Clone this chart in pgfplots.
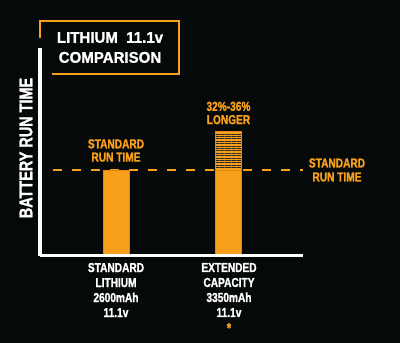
\documentclass[border=0pt]{standalone}
\usepackage{pgfplots}
\pgfplotsset{compat=1.18}
\usetikzlibrary{patterns.meta}
\usepackage{fontspec}
\setmainfont{Liberation Sans}
\newfontfamily\cond{Liberation Sans}[UprightFont=* Bold, UprightFeatures={FakeStretch=0.78, FakeBold=1.3}]
\newfontfamily\titlef{Liberation Sans}[UprightFont=* Bold, UprightFeatures={FakeStretch=0.97, FakeBold=1.2}]
\definecolor{bg}{HTML}{060909}
\definecolor{org}{HTML}{F8A01C}
\definecolor{orgdark}{HTML}{E08812}
\definecolor{hatch}{HTML}{2E2A26}

\begin{document}
\begin{tikzpicture}
\path[use as bounding box, fill=bg] (0,0) rectangle (400pt,343pt);
\begin{axis}[at={(40pt,87pt)}, anchor=south west, scale only axis,
  width=263pt, height=208pt, xmin=40, xmax=303, ymin=0, ymax=242,
  axis x line*=bottom, axis y line*=left,
  axis line style={-, white, line width=3pt},
  xtick=\empty, ytick=\empty, clip=false, axis on top=true]
\addplot[org, line width=2.2pt, dash pattern=on 9pt off 10pt, dash phase=10pt] coordinates {(44,100) (303,100)};
\addplot[ybar, bar width=26, bar shift=0pt, fill=org, draw=orgdark, line width=0.8pt,
  postaction={pattern color=hatch, pattern={Lines[angle=0,distance=2.4pt,line width=1pt]}}]
  coordinates {(228.5,145)};
\addplot[ybar, bar width=26, bar shift=0pt, fill=org, draw=orgdark, line width=0.8pt]
  coordinates {(116,100) (228.5,100)};
\end{axis}
% title box
\draw[org, line width=2pt] (40pt,305pt) -- (40pt,322pt) -- (179pt,322pt) -- (179pt,269pt) -- (52pt,269pt);
\node[white, inner sep=0, font=\fontsize{15.5}{20}\selectfont\titlef, align=center] at (110pt,295.5pt) {LITHIUM\ \ 11.1v\\COMPARISON};
% y label
\node[white, inner sep=0, rotate=90, font=\fontsize{18.5}{20}\selectfont\cond] at (26pt,195pt) {BATTERY RUN TIME};
% orange labels
\node[org, inner sep=0, font=\fontsize{13}{13.3}\selectfont\cond, align=center] at (116pt,192.5pt) {STANDARD\\RUN TIME};
\node[org, inner sep=0, font=\fontsize{13}{13.3}\selectfont\cond, align=center] at (228.5pt,230pt) {32\%-36\%\\LONGER};
\node[org, inner sep=0, font=\fontsize{13}{14}\selectfont\cond, align=center] at (337pt,173pt) {STANDARD\\RUN TIME};
% x labels
\node[white, inner sep=0, font=\fontsize{13}{15}\selectfont\cond, align=center] at (116pt,53pt) {STANDARD\\LITHIUM\\2600mAh\\11.1v};
\node[white, inner sep=0, font=\fontsize{13}{15}\selectfont\cond, align=center] at (229pt,53pt) {EXTENDED\\CAPACITY\\3350mAh\\11.1v};
\node[org, inner sep=0, font=\fontsize{14}{15}\selectfont\cond] at (229pt,15pt) {*};
\end{tikzpicture}
\end{document}
